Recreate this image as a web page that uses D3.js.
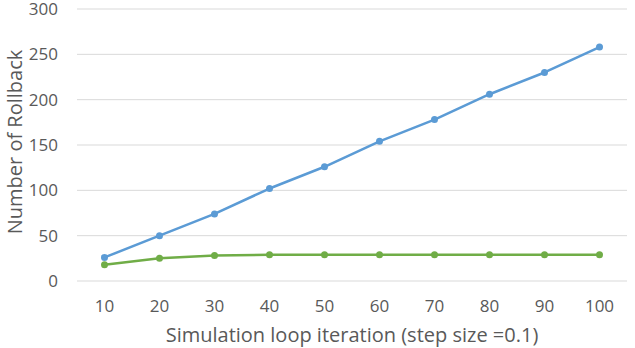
<!DOCTYPE html>
<html><head><meta charset="utf-8">
<script src="https://cdn.jsdelivr.net/npm/d3@7"></script>
<style>html,body{margin:0;padding:0;background:#fff}svg{display:block}text{font-family:"Open Sans","Noto Sans",sans-serif;fill:#595959}</style>
</head><body><svg id="c" width="635" height="348"></svg>
<script>
const categories = [10, 20, 30, 40, 50, 60, 70, 80, 90, 100];
const seriesBlue = [26, 50, 74, 102, 126, 154, 178, 206, 230, 258];
const seriesGreen = [18, 25, 28, 29, 29, 29, 29, 29, 29, 29];
const yTicks = [0, 50, 100, 150, 200, 250, 300];
const xTitle = "Simulation loop iteration (step size =0.1)";
const yTitle = "Number of Rollback";

const svg = d3.select("#c");
const m = {l: 77, r: 8, t: 9, b: 67};
const W = 635, H = 348;
const x = d3.scaleBand().domain(categories).range([m.l, W - m.r]);
const y = d3.scaleLinear().domain([0, 300]).range([H - m.b, m.t]);

svg.append("g").selectAll("line").data(yTicks).join("line")
  .attr("x1", m.l).attr("x2", W - m.r)
  .attr("y1", d => y(d)).attr("y2", d => y(d))
  .attr("stroke", "#d9d9d9").attr("stroke-width", 1);

svg.append("g").selectAll("text").data(yTicks).join("text")
  .attr("x", 58).attr("y", d => y(d) + 6)
  .attr("text-anchor", "end").attr("font-size", 17).text(d => d);

svg.append("g").selectAll("text").data(categories).join("text")
  .attr("x", d => x(d) + x.bandwidth() / 2).attr("y", 312)
  .attr("text-anchor", "middle").attr("font-size", 17).text(d => d);

svg.append("text").attr("x", (m.l + W - m.r) / 2).attr("y", 342)
  .attr("text-anchor", "middle").attr("font-size", 20).text(xTitle);

svg.append("text").attr("transform", "translate(22,142) rotate(-90)")
  .attr("text-anchor", "middle").attr("font-size", 20).text(yTitle);

const cx = d => x(d) + x.bandwidth() / 2;
function drawSeries(vals, color) {
  const data = categories.map((c, i) => [c, vals[i]]);
  svg.append("path").datum(data)
    .attr("fill", "none").attr("stroke", color).attr("stroke-width", 2.5)
    .attr("stroke-linejoin", "round")
    .attr("d", d3.line().x(d => cx(d[0])).y(d => y(d[1])));
  svg.append("g").selectAll("circle").data(data).join("circle")
    .attr("cx", d => cx(d[0])).attr("cy", d => y(d[1])).attr("r", 3.5)
    .attr("fill", color);
}
drawSeries(seriesBlue, "#5b9bd5");
drawSeries(seriesGreen, "#70ad47");
</script></body></html>
